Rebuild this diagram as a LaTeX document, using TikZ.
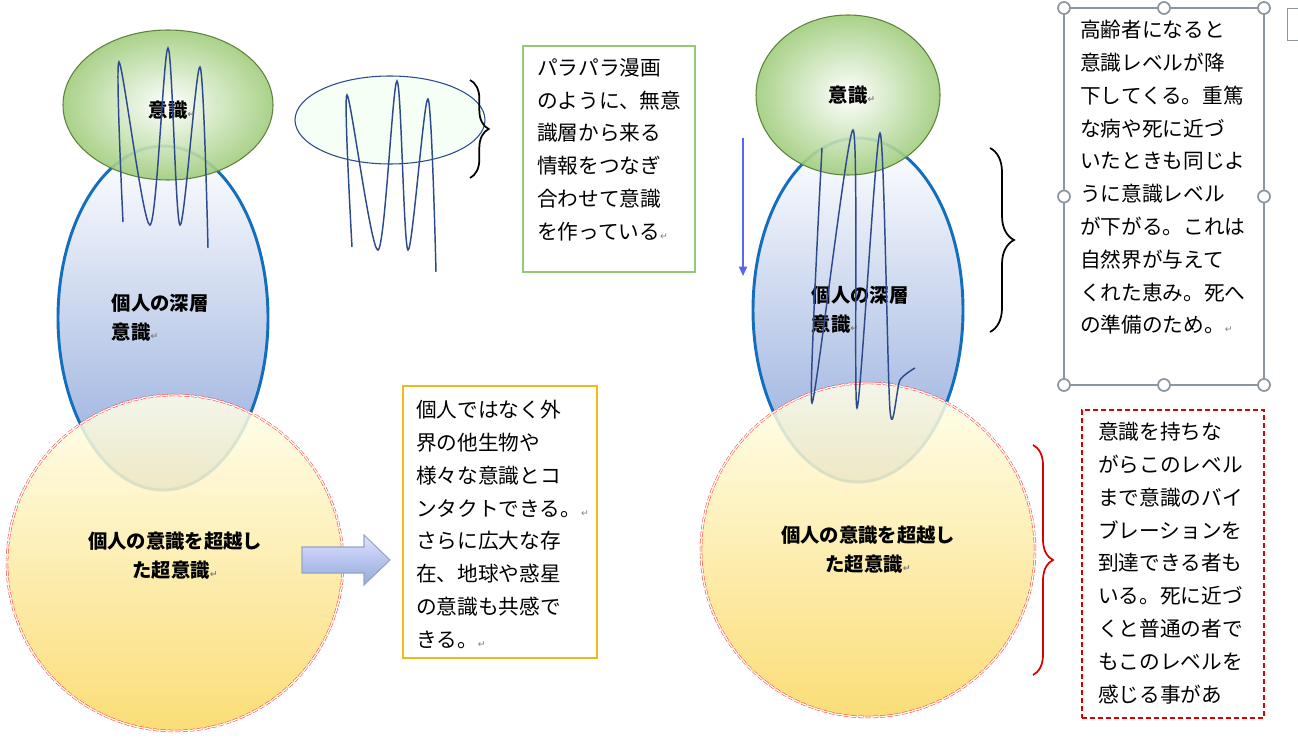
\documentclass[tikz,border=0pt]{standalone}
\usepackage{fontspec}
\setmainfont{Noto Sans CJK JP}
\newfontfamily\djv{DejaVu Sans}
\usetikzlibrary{shapes.geometric,shapes.arrows,decorations.pathreplacing,arrows.meta}
\definecolor{gedge}{RGB}{95,130,60}
\definecolor{gfill}{RGB}{160,205,125}
\definecolor{bedge}{RGB}{20,110,190}
\definecolor{bfill}{RGB}{145,170,220}
\definecolor{yfill}{RGB}{250,215,95}
\definecolor{scrib}{RGB}{45,75,140}
\definecolor{gbox}{RGB}{150,200,120}
\definecolor{ybox}{RGB}{240,185,30}
\definecolor{hgray}{RGB}{140,150,160}
\newcommand{\rt}{{\djv\color{gray}\fontsize{7pt}{7pt}\selectfont ↵}}
\begin{document}
\begin{tikzpicture}[x=0.75pt,y=-0.75pt,
 greenell/.style={ellipse,draw=gedge,thick,inner color=white,outer color=gfill,fill opacity=0.9,draw opacity=1},
 blueell/.style={ellipse,draw=bedge,line width=2.2pt,top color=white,bottom color=bfill},
 yellcirc/.style={circle,draw=red!75,double=white,double distance=1pt,dash pattern=on 4pt off 1.5pt,top color=yellow!8,bottom color=yfill,fill opacity=0.85},
 scr/.style={draw=scrib,line width=1.1pt},
 lbl/.style={font=\bfseries\fontsize{14.5pt}{22pt}\selectfont,align=left},
 txt/.style={font=\fontsize{15.5pt}{24.6pt}\selectfont,align=left,inner sep=0pt,anchor=north west},
 brc/.style={decorate,decoration={brace,amplitude=14pt},line width=1.3pt},
 handle/.style={circle,draw=hgray,line width=1.3pt,fill=white,minimum size=9pt,inner sep=0pt},
 box/.style={line width=1.6pt,anchor=north west,inner sep=0pt,outer sep=0pt},
 fatarrow/.style={draw=scrib!50,top color=blue!12,bottom color=bfill,line width=0.8pt}]
\useasboundingbox (0,0) rectangle (1298,755);
% ---- left column
\node[blueell,minimum width=210*0.75pt,minimum height=344*0.75pt] (lb) at (163,318) {};
\node[greenell,minimum width=210*0.75pt,minimum height=150*0.75pt] (lg) at (168,105) {};
\node[yellcirc,minimum size=336*0.75pt] (ly) at (175,563) {};
\node[lbl] (lgt) at (172,110) {意識\rt};
\node[lbl] (lbt) at (160,318) {個人の深層\\意識\rt};
\node[lbl,align=center] (lyt) at (175,556) {個人の意識を超越し\\た超意識\rt};
\draw[scr] plot[smooth,tension=0.5] coordinates {(123,222) (119,62) (150,225) (168,48) (180,225) (200,67) (208,248)};
% middle ellipse
\node[ellipse,draw=scrib,thick,fill=green!4,minimum width=190*0.75pt,minimum height=88*0.75pt] (me) at (390,120) {};
\draw[scr] plot[smooth,tension=0.5] coordinates {(352,247) (347,95) (378,250) (397,81) (408,250) (428,99) (436,272)};
\draw[brc] (470,80) -- (470,178);
\node[box,draw=gbox,minimum width=172*0.75pt,minimum height=226*0.75pt] (gb) at (523,46) {};
\node[txt] (gbt) at (537,58) {パラパラ漫画\\のように、無意\\識層から来る\\情報をつなぎ\\合わせて意識\\を作っている\rt};
\draw[fatarrow] (302,547) -- (364,547) -- (364,535) -- (390,560) -- (364,585) -- (364,573) -- (302,573) -- cycle;
\node[box,draw=ybox,minimum width=194*0.75pt,minimum height=272*0.75pt] (yb) at (403,386) {};
\node[txt] (ybt) at (416,400) {個人ではなく外\\界の他生物や\\様々な意識とコ\\ンタクトできる。\rt\\さらに広大な存\\在、地球や惑星\\の意識も共感で\\きる。\rt};
% ---- right column
\node[blueell,minimum width=210*0.75pt,minimum height=344*0.75pt] (rb) at (858,310) {};
\node[greenell,minimum width=184*0.75pt,minimum height=160*0.75pt] (rg) at (848,95) {};
\node[yellcirc,minimum size=334*0.75pt] (ry) at (868,550) {};
\node[lbl] (rgt) at (852,95) {意識\rt};
\node[lbl] (rbt) at (860,310) {個人の深層\\意識\rt};
\node[lbl,align=center] (ryt) at (868,550) {個人の意識を超越し\\た超意識\rt};
\draw[scr] plot[smooth,tension=0.45] coordinates {(822,148) (812,403) (853,130) (857,408) (880,133) (890,410) (900,380) (915,368)};
\coordinate (da) at (743,138); \coordinate (db) at (743,276);
\draw[-{Triangle[length=7pt,width=6pt]},draw=bfill!60!blue,fill=bfill!60!blue,line width=1.3pt] (da) -- (db);
\draw[brc,decoration={amplitude=18pt}] (990,148) -- (990,332);
\node[box,draw=hgray,line width=1.3pt,minimum width=200*0.75pt,minimum height=377*0.75pt] (hb) at (1064,8) {};
\foreach \p in {north west,north,north east,west,east,south west,south,south east}
  \node[handle] at (hb.\p) {};
\node[txt] (hbt) at (1080,20) {高齢者になると\\意識レベルが降\\下してくる。重篤\\な病や死に近づ\\いたときも同じよ\\うに意識レベル\\が下がる。これは\\自然界が与えて\\くれた恵み。死へ\\の準備のため。\rt};
\draw[brc,draw=red!85!black,decoration={amplitude=15pt}] (1033,445) -- (1033,675);
\node[box,draw=red!85!black,dash pattern=on 4pt off 2pt,minimum width=182*0.75pt,minimum height=308*0.75pt] (rbx) at (1082,410) {};
\node[txt] (rbxt) at (1098,422) {意識を持ちな\\がらこのレベル\\まで意識のバイ\\ブレーションを\\到達できる者も\\いる。死に近づ\\くと普通の者で\\もこのレベルを\\感じる事があ};
\node[draw=hgray,fill=white,minimum width=14*0.75pt,minimum height=32*0.75pt,anchor=north west,inner sep=0pt] (ic) at (1287,8) {};
\end{tikzpicture}
\end{document}
